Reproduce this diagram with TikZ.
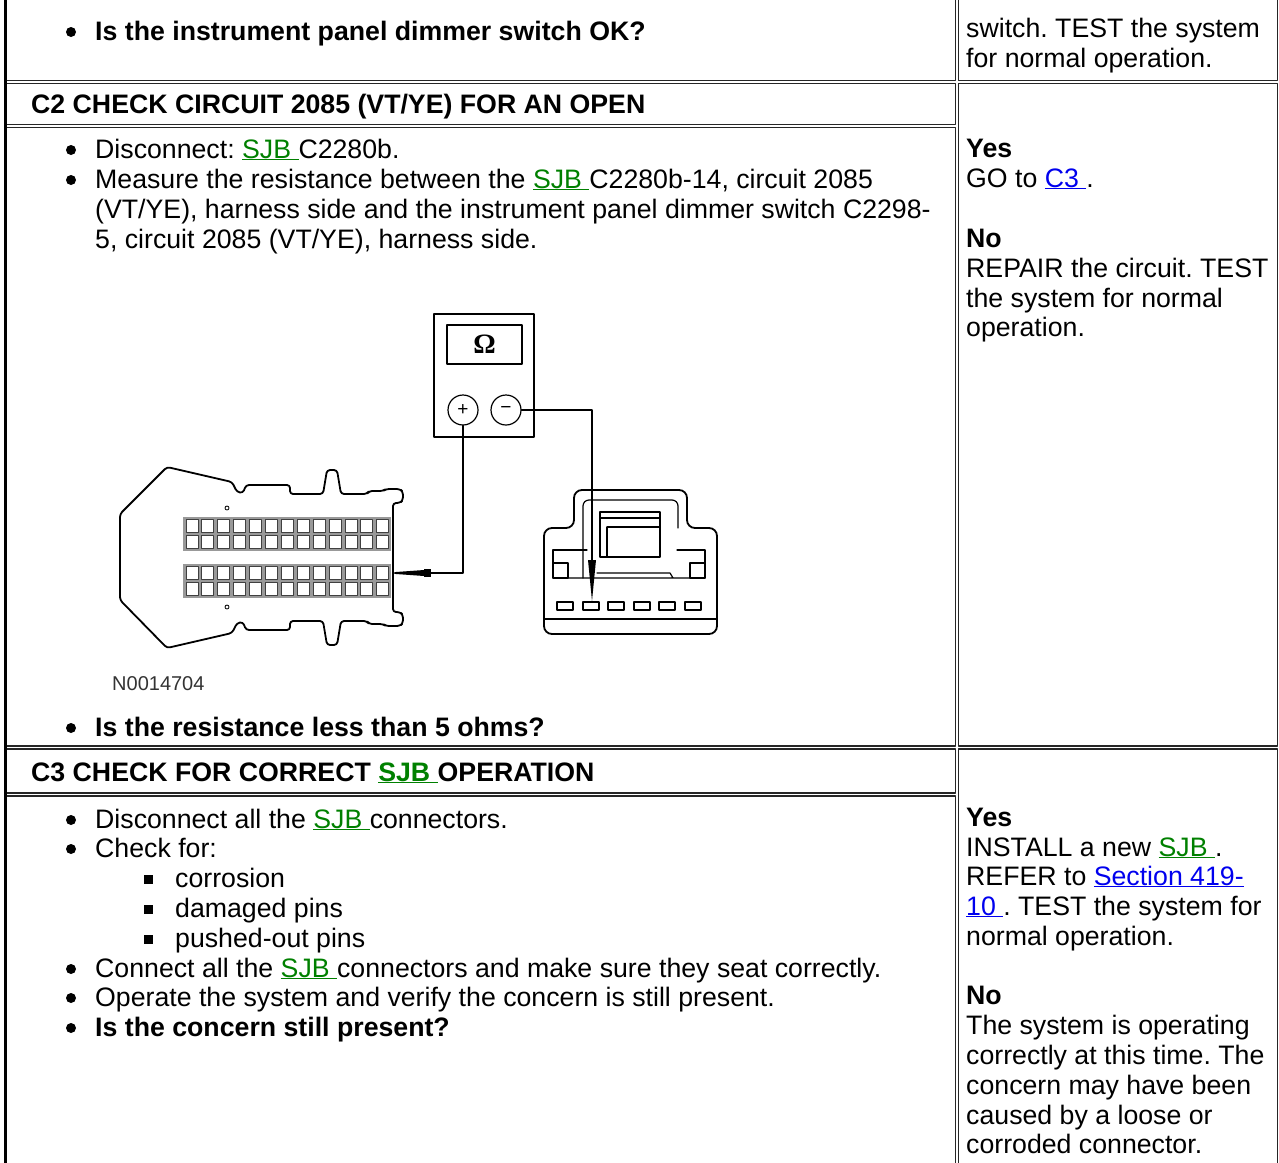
\documentclass[tikz,border=0pt]{standalone}
\usepackage{fontspec}
\setmainfont{Liberation Sans}
\newfontfamily\ohmfont{Liberation Serif}
\definecolor{sjbgreen}{RGB}{0,128,0}
\definecolor{linkblue}{RGB}{0,0,238}
\newcommand\txtfont{\fontsize{26.7}{30}\selectfont\frenchspacing}
\newcommand\sjb{\textcolor{sjbgreen}{\underline{SJB }}}
\newcommand\lnk[1]{\textcolor{linkblue}{\underline{#1}}}
\begin{document}
\begin{tikzpicture}[x=1pt, y=-1pt, font=\txtfont, line join=round, line cap=round,
  txt/.style={anchor=base west, inner sep=0pt},
  cell/.style={draw=black!85, line width=1.6pt},
  wire/.style={line width=2.4pt},
  part/.style={line width=1.8pt},
  thin/.style={line width=1.2pt}]
\useasboundingbox (0,0) rectangle (1279,1162);
\clip (0,0) rectangle (1279,1162);
% table
\draw[cell] (5.5,-10) rectangle (955.5,80.5);
\draw[cell] (958.5,-10) rectangle (1277.5,80.5);
\draw[cell] (5.5,83.5) rectangle (955.5,124.5);
\draw[cell] (5.5,127.5) rectangle (955.5,746);
\draw[cell] (958.5,83.5) rectangle (1277.5,746);
\draw[cell] (5.5,749) rectangle (955.5,793);
\draw[cell] (5.5,796) rectangle (955.5,1180);
\draw[cell] (958.5,749) rectangle (1277.5,1180);
\draw[line width=3pt] (5.5,-10) -- (5.5,1180);
% bullets
\foreach \y in {40,158,188,736,828,857,977,1006,1036} \fill (71,\y-8) circle (5pt);
\foreach \y in {887,917,947} \fill (144,\y-12) rectangle ++(9,9);
% row above
\node[txt] (q1) at (95,40) {\textbf{Is the instrument panel dimmer switch OK?}};
\node[txt] (a1) at (966,37) {switch. TEST the system};
\node[txt] (a2) at (966,67) {for normal operation.};
% C2
\node[txt] (c2head) at (31,113) {\textbf{C2 CHECK CIRCUIT 2085 (VT/YE) FOR AN OPEN}};
\node[txt] (c2s1) at (95,158) {Disconnect: \sjb C2280b.};
\node[txt] (c2s2) at (95,188) {Measure the resistance between the \sjb C2280b-14, circuit 2085};
\node[txt] (c2s3) at (95,218) {(VT/YE), harness side and the instrument panel dimmer switch C2298-};
\node[txt] (c2s4) at (95,248) {5, circuit 2085 (VT/YE), harness side.};
\node[txt] (c2q) at (95,736) {\textbf{Is the resistance less than 5 ohms?}};
\node[txt] (c2yes) at (966,157) {\textbf{Yes}};
\node[txt] (c2go) at (966,187) {GO to \lnk{C3 }.};
\node[txt] (c2no) at (966,247) {\textbf{No}};
\node[txt] (c2r1) at (966,277) {REPAIR the circuit. TEST};
\node[txt] (c2r2) at (966,307) {the system for normal};
\node[txt] (c2r3) at (966,336) {operation.};
% C3
\node[txt] (c3head) at (31,781) {\textbf{C3 CHECK FOR CORRECT \sjb OPERATION}};
\node[txt] (c3s1) at (95,828) {Disconnect all the \sjb connectors.};
\node[txt] (c3s2) at (95,857) {Check for:};
\node[txt] (c3k1) at (175,887) {corrosion};
\node[txt] (c3k2) at (175,917) {damaged pins};
\node[txt] (c3k3) at (175,947) {pushed-out pins};
\node[txt] (c3s3) at (95,977) {Connect all the \sjb connectors and make sure they seat correctly.};
\node[txt] (c3s4) at (95,1006) {Operate the system and verify the concern is still present.};
\node[txt] (c3q) at (95,1036) {\textbf{Is the concern still present?}};
\node[txt] (c3yes) at (966,826) {\textbf{Yes}};
\node[txt] (c3i1) at (966,856) {INSTALL a new \sjb.};
\node[txt] (c3i2) at (966,885) {REFER to \lnk{Section 419-}};
\node[txt] (c3i3) at (966,915) {\lnk{10 }. TEST the system for};
\node[txt] (c3i4) at (966,945) {normal operation.};
\node[txt] (c3no) at (966,1004) {\textbf{No}};
\node[txt] (c3n1) at (966,1034) {The system is operating};
\node[txt] (c3n2) at (966,1064) {correctly at this time. The};
\node[txt] (c3n3) at (966,1094) {concern may have been};
\node[txt] (c3n4) at (966,1124) {caused by a loose or};
\node[txt] (c3n5) at (966,1153) {corroded connector.};
% ohmmeter
\node[draw, line width=2.2pt, minimum width=100, minimum height=123, inner sep=0] (meter) at (484,375.5) {};
\node[draw, line width=1.6pt, minimum width=75, minimum height=39, inner sep=0] (display) at (484.5,344.5) {\ohmfont\bfseries\fontsize{28}{28}\selectfont Ω};
\node[draw, circle, thin, minimum size=30, inner sep=0, font=\fontsize{19}{19}\selectfont] (plus) at (463,410) {+};
\node[draw, circle, thin, minimum size=30, inner sep=0, font=\fontsize{19}{19}\selectfont] (minus) at (506,410) {−};
% SJB connector
\draw[part, rounded corners=3pt] (120,600) -- (120,514) -- (167,467) -- (232,482) -- (237,492) -- (243,493) -- (246,485) -- (290,485) -- (290,494) -- (323,494) -- (327,470) -- (337,470) -- (341,494) -- (367,494) -- (369,491) -- (383,491) -- (386,489) -- (400,489) -- (403,492) -- (403,500) -- (400,503) -- (393,503) -- (393,612) -- (400,612) -- (403,615) -- (403,623) -- (400,626) -- (386,626) -- (383,624) -- (369,624) -- (367,621) -- (341,621) -- (337,645) -- (327,645) -- (323,621) -- (290,621) -- (290,630) -- (246,630) -- (243,622) -- (237,623) -- (232,633) -- (167,648) -- cycle;
\fill[black!40] (183,517) rectangle (391,551);
\fill[black!40] (183,564) rectangle (391,598);
\foreach \i in {0,...,12}
  \foreach \j in {519,535,566,582}
    \draw[black!75, fill=white, line width=1pt] (186+\i*15.9,\j) rectangle ++(12,13);
\draw[line width=0.8pt] (227,508) circle (2pt) (227,607) circle (2pt);
\coordinate (sjbprobe) at (428,573);
\fill (431,569) rectangle (424,577);
\fill (424,570) -- (424,576) -- (396,574) -- (392,573) -- (396,572) -- cycle;
\draw[wire] (plus.south) |- (sjbprobe);
% switch connector
\draw[part, rounded corners=8pt] (544,634) -- (544,528) -- (574,528) -- (574,490) -- (687,490) -- (687,528) -- (717,528) -- (717,634) -- cycle;
\draw[thin, rounded corners=6pt] (583,578) -- (583,500) -- (678,500) -- (678,528);
\draw[thin] (600,512) rectangle (660,557) (600,518) -- (660,518) (607,527) -- (660,527) (607,527) -- (607,557);
\draw[thin] (553,578) -- (553,550) -- (587,550) (553,563) rectangle (568,578);
\draw[thin] (705,578) -- (705,550) -- (677,550) (690,563) rectangle (705,578);
\draw[thin] (553,578) -- (705,578) (597,573) -- (670,573) -- (673,578);
\foreach \x in {557,583,608,634,659,685} \draw[thin] (\x,602) rectangle ++(16,8);
\draw[thin] (544,619) -- (717,619);
\coordinate (swprobe) at (592,560);
\fill (588,560) -- (596,560) -- (592,601) -- cycle;
\draw[wire] (minus.east) -| (swprobe);
\node[txt, font=\fontsize{20}{20}\selectfont, text=black!80] (fig) at (112,690) {N0014704};
\end{tikzpicture}
\end{document}
